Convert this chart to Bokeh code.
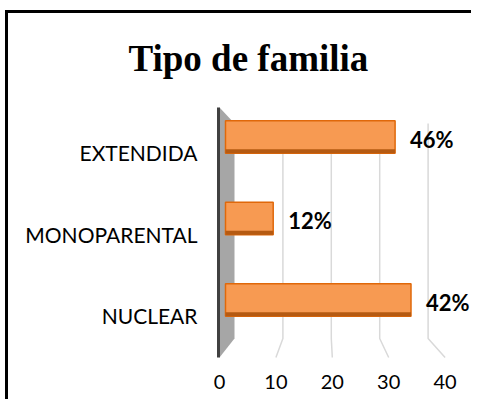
from bokeh.plotting import figure
from bokeh.models import (Range1d, ColumnDataSource, LabelSet,
                          LinearAxis, FixedTicker)
from bokeh.core.properties import value
from bokeh.transform import dodge
from bokeh.embed import file_html
from bokeh.resources import INLINE

# ---- data ----
title_text = "Tipo de familia"
categories = ["EXTENDIDA", "MONOPARENTAL", "NUCLEAR"]
values = [32, 9, 35]
pct_labels = ["46%", "12%", "42%"]
x_ticks = [0, 10, 20, 30, 40]

n = len(categories)
ypos = [n - 1 - i for i in range(n)]  # top to bottom

W, H = 466, 404
p = figure(width=W, height=H, output_backend="svg", toolbar_location=None,
           y_range=Range1d(-0.564, n - 1 + 0.564),
           x_range=Range1d(-2.453, (471 - 225) / 5.3),
           min_border_left=207, min_border_right=0,
           min_border_top=111, min_border_bottom=38,
           x_axis_location=None)
p.styles = {"box-shadow": "inset 0 15px 0 0 white, inset 0 18px 0 0 black, "
                          "inset 3px 0 0 0 black",
            "margin-left": "5px", "margin-top": "-5px"}
p.background_fill_color = "white"
p.border_fill_color = None
p.outline_line_color = None
p.xgrid.visible = False
p.ygrid.visible = False

# decoration ranges in frame pixel space (perspective wall/floor)
p.extra_x_ranges = {"px": Range1d(212, 471),
                    "front": Range1d(-7 / 5.64, (471 - 219) / 5.64)}
p.extra_y_ranges = {"py": Range1d(361, 106)}

# back wall (left side)
p.patch([219, 234, 234, 219], [107, 123, 338, 357], fill_color="#A6A6A6",
        line_color=None, x_range_name="px", y_range_name="py")
p.segment(x0=[218], y0=[107], x1=[218], y1=[357], line_color="#404040",
          line_width=3, x_range_name="px", y_range_name="py")

# gridlines: back wall vertical + floor diagonal
gx = [t for t in x_ticks if t > 0]
xs = [[234 + 4.84 * t, 234 + 4.84 * t, 219 + 5.64 * t] for t in gx]
ys = [[123, 338, 357] for _ in gx]
p.multi_line(xs, ys, line_color="#D9D9D9", line_width=1.5,
             x_range_name="px", y_range_name="py")

src = ColumnDataSource(dict(y=ypos, cat=categories, val=values, lab=pct_labels))
bar_off = 0.19
p.hbar(y=dodge("y", bar_off), right="val", left=0,
       height=0.40, source=src, fill_color="#F79A52", line_color="#E0680A",
       line_width=1.5)
p.hbar(y=dodge("y", bar_off - 0.175), right="val", left=0,
       height=0.05, source=src, fill_color="#B55A12", line_color=None)

labels = LabelSet(x="val", y=dodge("y", bar_off - 0.03),
                  text="lab", source=src, x_offset=15, text_baseline="middle",
                  text_font=value("Lato"), text_font_style="bold",
                  text_font_size="22px", text_color="black")
p.add_layout(labels)

# axes
xaxis = LinearAxis(x_range_name="front", ticker=FixedTicker(ticks=x_ticks))
xaxis.axis_line_color = None
xaxis.major_tick_line_color = None
xaxis.minor_tick_line_color = None
xaxis.major_tick_out = 0
xaxis.major_tick_in = 0
xaxis.major_label_standoff = 13
xaxis.major_label_text_font = "Lato"
xaxis.major_label_text_font_size = "20px"
xaxis.major_label_text_color = "black"
p.add_layout(xaxis, "below")

ya = p.yaxis[0]
ya.ticker = FixedTicker(ticks=ypos)
ya.major_label_overrides = {y: c for y, c in zip(ypos, categories)}
ya.axis_line_color = None
ya.major_tick_line_color = None
ya.minor_tick_line_color = None
ya.major_tick_out = 0
ya.major_tick_in = 0
ya.major_label_standoff = 15
ya.major_label_text_font = "Lato"
ya.major_label_text_font_size = "21px"
ya.major_label_text_color = "black"

p.title.text = title_text
p.title.text_font = "Liberation Serif"
p.title.text_font_style = "bold"
p.title.text_font_size = "37px"
p.title.text_color = "black"
p.title.align = "left"
p.title.offset = -84
p.title.standoff = 56

open("out.html", "w").write(file_html(p, INLINE))
